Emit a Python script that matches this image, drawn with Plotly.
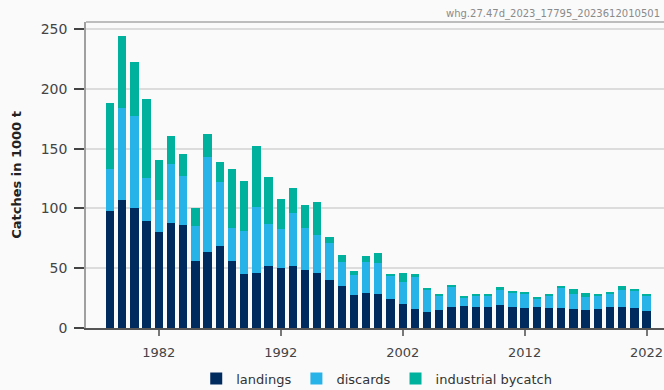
import plotly.graph_objects as go

# Catches by year (thousand tonnes)
years = list(range(1978, 2023))

landings = [98, 107, 100.5, 89.5, 80.5, 88, 86, 56, 64, 68.5,
            56, 45, 46, 51.5, 50.5, 51.5, 48.5, 46, 40.5, 35,
            27.5, 29.5, 28.5, 24.5, 20.5, 15.5, 13, 15, 17.5, 18.5,
            17.5, 17.5, 19.5, 17.5, 16.5, 17.5, 17, 17, 15.5, 15,
            15.5, 17.5, 17.5, 16.5, 14.5]

discards = [35, 77, 77, 36, 27, 49.5, 41, 29, 79, 54,
            28, 36, 55, 35.5, 32.5, 44.5, 35.5, 32, 30.5, 20,
            16.5, 25.5, 25.5, 19.5, 18, 27.5, 19, 12.5, 17.5, 7,
            10, 9.5, 13, 12, 12.5, 6.5, 10, 16.5, 13, 11,
            11.5, 11, 14, 14.5, 13]

industrial_bycatch = [55, 60, 45, 66.5, 33, 23.5, 18.5, 15, 19, 16,
                      49, 42, 51, 39.5, 25, 21, 18.5, 27.5, 5, 6,
                      3.5, 5, 9, 0.7, 7.5, 2.5, 1, 1, 1.2, 1,
                      0.3, 1.5, 1.5, 1, 1, 2, 1.5, 2, 4.5, 3,
                      1.3, 2, 3.5, 2, 0.5]

tick_years = [1982, 1992, 2002, 2012, 2022]
stamp = "whg.27.47d_2023_17795_2023612010501"

series = [
    ("landings", landings, "#002b5f"),
    ("discards", discards, "#28b3e8"),
    ("industrial bycatch", industrial_bycatch, "#00b29d"),
]

fig = go.Figure()
for name, vals, col in series:
    fig.add_trace(go.Bar(
        x=years, y=vals, name=name,
        marker=dict(color=col, line=dict(width=0)),
        width=0.68,
    ))

W, H = 664, 390
ML, MR, MT, MB = 86, 0, 22, 62

fig.update_layout(
    width=W, height=H,
    margin=dict(l=ML, r=MR, t=MT, b=MB, pad=0, autoexpand=False),
    barmode="stack",
    paper_bgcolor="#fafafa",
    plot_bgcolor="#fafafa",
    font=dict(family="DejaVu Sans", size=13, color="#444"),
    showlegend=True,
    legend=dict(
        orientation="h", x=0.503, xanchor="center", y=-0.165, yanchor="middle",
        font=dict(size=13, color="#333"), traceorder="normal",
        bgcolor="rgba(0,0,0,0)",
    ),
    xaxis=dict(
        range=[1976.03, 2023.43],
        tickmode="array", tickvals=tick_years,
        ticks="outside", ticklen=6, tickwidth=1.5, tickcolor="#777",
        ticklabelstandoff=5, automargin=False,
        showline=True, linecolor="#555", linewidth=2,
        showgrid=False, zeroline=False,
        tickfont=dict(size=13, color="#444"),
    ),
    yaxis=dict(
        range=[0, 256],
        tickvals=[0, 50, 100, 150, 200, 250],
        ticks="outside", ticklen=10, tickwidth=1.5, tickcolor="#444",
        ticklabelstandoff=4, automargin=False,
        showline=True, linecolor="#a0a0a0", linewidth=1.5,
        showgrid=True, gridcolor="#dcdcdc", gridwidth=1.5,
        zeroline=False,
        tickfont=dict(size=14, color="#444"),
        title=dict(text="<b>Catches in 1000 t</b>",
                   font=dict(size=13, color="#222"), standoff=16),
    ),
    shapes=[dict(type="line", xref="paper", yref="paper",
                 x0=0, x1=1, y0=1, y1=1,
                 line=dict(color="#a8a8a8", width=1.5))],
    annotations=[dict(
        text=stamp, xref="paper", yref="paper",
        x=(662 - ML) / (W - ML - MR), xanchor="right",
        y=1 + 8 / (H - MT - MB), yanchor="middle",
        showarrow=False, font=dict(size=10, color="#8a8a8a"),
    )],
)

fig.write_html("out.html")
